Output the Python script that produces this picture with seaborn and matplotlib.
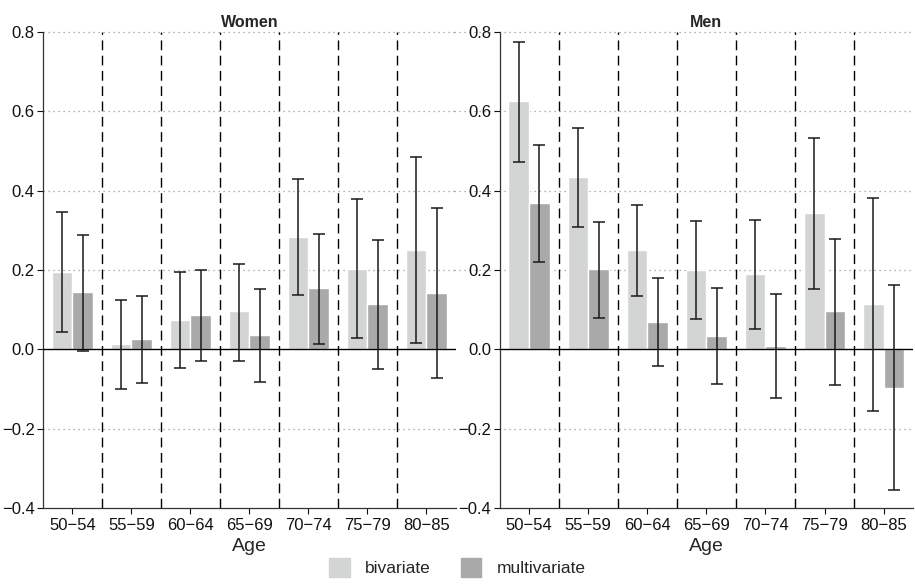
import numpy as np
import pandas as pd
import seaborn as sns
import matplotlib
matplotlib.use("Agg")
import matplotlib.pyplot as plt

ages = ["50−54", "55−59", "60−64", "65−69", "70−74", "75−79", "80−85"]
models = ["bivariate", "multivariate"]

# Women
w_biv = [0.195, 0.013, 0.075, 0.096, 0.284, 0.204, 0.250]
w_biv_lo = [0.044, -0.099, -0.046, -0.028, 0.136, 0.029, 0.015]
w_biv_hi = [0.346, 0.124, 0.194, 0.215, 0.430, 0.378, 0.484]
w_mul = [0.144, 0.026, 0.086, 0.037, 0.154, 0.115, 0.143]
w_mul_lo = [-0.005, -0.084, -0.030, -0.081, 0.014, -0.050, -0.071]
w_mul_hi = [0.289, 0.135, 0.199, 0.152, 0.292, 0.277, 0.356]

# Men
m_biv = [0.626, 0.434, 0.250, 0.201, 0.189, 0.345, 0.114]
m_biv_lo = [0.473, 0.309, 0.134, 0.076, 0.051, 0.153, -0.155]
m_biv_hi = [0.776, 0.558, 0.363, 0.324, 0.326, 0.533, 0.382]
m_mul = [0.370, 0.202, 0.070, 0.035, 0.009, 0.096, -0.098]
m_mul_lo = [0.220, 0.080, -0.043, -0.088, -0.122, -0.090, -0.355]
m_mul_hi = [0.516, 0.321, 0.180, 0.156, 0.139, 0.278, 0.162]

yticks = [-0.4, -0.2, 0.0, 0.2, 0.4, 0.6, 0.8]


def long_frame(biv, biv_lo, biv_hi, mul, mul_lo, mul_hi):
    rows = []
    for i, a in enumerate(ages):
        rows.append((a, "bivariate", biv[i], biv_lo[i], biv_hi[i]))
        rows.append((a, "multivariate", mul[i], mul_lo[i], mul_hi[i]))
    return pd.DataFrame(rows, columns=["age", "model", "est", "lo", "hi"])


panels = [
    ("Women", long_frame(w_biv, w_biv_lo, w_biv_hi, w_mul, w_mul_lo, w_mul_hi)),
    ("Men", long_frame(m_biv, m_biv_lo, m_biv_hi, m_mul, m_mul_lo, m_mul_hi)),
]

sns.set_style("ticks")
plt.rcParams["font.family"] = ["Liberation Sans", "DejaVu Sans"]

fig = plt.figure(figsize=(9.15, 5.84), dpi=100)
axes = [fig.add_axes([0.047, 0.130, 0.451, 0.815]),
        fig.add_axes([0.546, 0.130, 0.452, 0.815])]

pal = {"bivariate": "#d3d5d4", "multivariate": "#a9a9a9"}

for ax, (title, d) in zip(axes, panels):
    sns.barplot(data=d, x="age", y="est", hue="model", order=ages, hue_order=models,
                palette=pal, width=0.7, errorbar=None, saturation=1, ax=ax, zorder=2)

    # error bars at the bar centres
    for cont, m in zip(ax.containers, models):
        sub = d[d["model"] == m].set_index("age").loc[ages]
        xs = [b.get_x() + b.get_width() / 2 for b in cont]
        ax.errorbar(xs, sub["est"], yerr=[sub["est"] - sub["lo"], sub["hi"] - sub["est"]],
                    fmt="none", ecolor="#1a1a1a", elinewidth=1.1, capsize=4, capthick=1.1, zorder=4)

    # dotted grid lines
    x0 = -0.11 if ax is axes[1] else 0
    for yv in yticks:
        if yv in (0.0, -0.4):
            continue
        ax.plot([x0, 1], [yv, yv], transform=ax.get_yaxis_transform(), color="#999999",
                linestyle=(0, (1, 3)), linewidth=0.9, clip_on=False, zorder=0)

    for k in range(1, len(ages)):
        ax.axvline(k - 0.5, color="black", linestyle=(0, (7, 4)), linewidth=1.0, zorder=3)
    ax.axhline(0, color="black", linewidth=1.0, zorder=3)

    ax.set_xlim(-0.5, len(ages) - 0.5)
    ax.set_ylim(-0.4, 0.8)
    ax.set_yticks(yticks)
    ax.set_yticklabels([f"{v:.1f}".replace("-", "−") for v in yticks])
    ax.tick_params(axis="both", labelsize=12, length=4, width=0.8, colors="#111111")
    ax.tick_params(axis="x", pad=3)
    ax.tick_params(axis="y", pad=2)
    ax.set_title(title, fontsize=11.5, fontweight="bold", pad=4)
    ax.set_xlabel("Age", fontsize=14, labelpad=4)
    ax.set_ylabel("")
    for s in ["top", "right"]:
        ax.spines[s].set_visible(False)
    for s in ["left", "bottom"]:
        ax.spines[s].set_color("#333333")
        ax.spines[s].set_linewidth(0.9)
    ax.get_legend().remove()

handles = [plt.Rectangle((0, 0), 1, 1, color=pal[m]) for m in models]
fig.legend(handles, models, loc="lower center", bbox_to_anchor=(0.5, -0.015), ncol=2,
           frameon=False, fontsize=12.5, handlelength=1.2, handleheight=1.3,
           columnspacing=1.7, handletextpad=0.9)

fig.savefig("out.png", dpi=100)
